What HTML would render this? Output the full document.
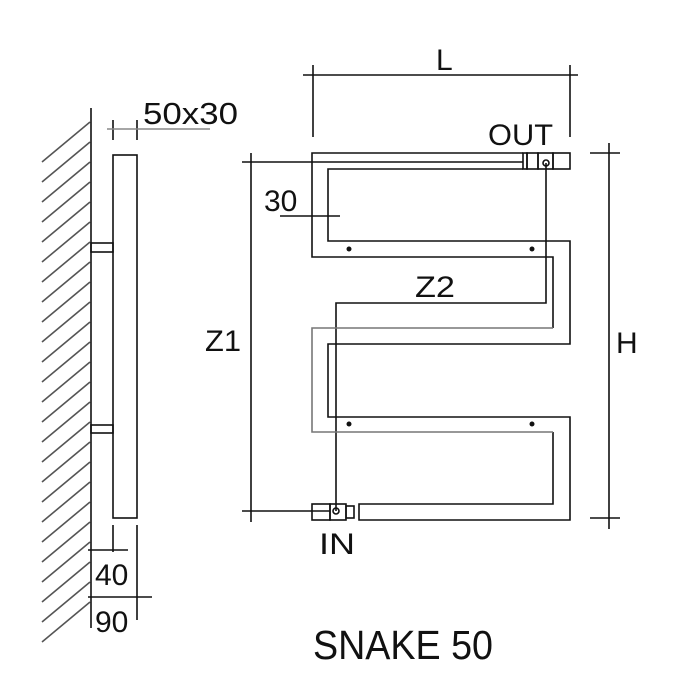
<!DOCTYPE html>
<html><head><meta charset="utf-8"><style>
html,body{margin:0;padding:0;background:#fff;}
svg{display:block;}
text{font-family:"Liberation Sans",sans-serif;fill:#111;}
</style></head><body>
<svg width="678" height="685" viewBox="0 0 678 685" xmlns="http://www.w3.org/2000/svg">
<g stroke="#555" stroke-width="1.6">
<line x1="90" y1="122" x2="42" y2="162"/><line x1="90" y1="142" x2="42" y2="182"/><line x1="90" y1="162" x2="42" y2="202"/><line x1="90" y1="182" x2="42" y2="222"/><line x1="90" y1="202" x2="42" y2="242"/><line x1="90" y1="222" x2="42" y2="262"/><line x1="90" y1="242" x2="42" y2="282"/><line x1="90" y1="262" x2="42" y2="302"/><line x1="90" y1="282" x2="42" y2="322"/><line x1="90" y1="302" x2="42" y2="342"/><line x1="90" y1="322" x2="42" y2="362"/><line x1="90" y1="342" x2="42" y2="382"/><line x1="90" y1="362" x2="42" y2="402"/><line x1="90" y1="382" x2="42" y2="422"/><line x1="90" y1="402" x2="42" y2="442"/><line x1="90" y1="422" x2="42" y2="462"/><line x1="90" y1="442" x2="42" y2="482"/><line x1="90" y1="462" x2="42" y2="502"/><line x1="90" y1="482" x2="42" y2="522"/><line x1="90" y1="502" x2="42" y2="542"/><line x1="90" y1="522" x2="42" y2="562"/><line x1="90" y1="542" x2="42" y2="582"/><line x1="90" y1="562" x2="42" y2="602"/><line x1="90" y1="582" x2="42" y2="622"/><line x1="90" y1="602" x2="42" y2="642"/>
</g>
<g stroke="#111" stroke-width="1.6" fill="none">
<line x1="91" y1="108" x2="91" y2="628"/>
<rect x="113" y="155" width="24" height="363"/>
<rect x="91" y="243" width="22" height="9"/>
<rect x="91" y="425" width="22" height="8"/>
<line x1="113" y1="120" x2="113" y2="140"/><line x1="137" y1="120" x2="137" y2="140"/>
<line x1="113" y1="525" x2="113" y2="552"/><line x1="88" y1="550" x2="128" y2="550"/>
<line x1="137" y1="525" x2="137" y2="620"/><line x1="88" y1="597" x2="152" y2="597"/>
</g>
<line x1="107" y1="129" x2="210" y2="129" stroke="#888" stroke-width="1.6"/>
<text x="143" y="124" font-size="31" fill="#333" textLength="95" lengthAdjust="spacingAndGlyphs">50x30</text>
<text x="95" y="585" font-size="30" fill="#333">40</text>
<text x="95" y="632" font-size="30" fill="#333">90</text>

<g stroke="#111" stroke-width="1.6" fill="none">
<line x1="303" y1="75" x2="578" y2="75"/>
<line x1="313" y1="65" x2="313" y2="137"/><line x1="570" y1="65" x2="570" y2="137"/>
<line x1="242" y1="162" x2="523" y2="162"/>
<line x1="251" y1="153" x2="251" y2="522"/>
<line x1="242" y1="511" x2="330" y2="511"/>
<line x1="609" y1="143" x2="609" y2="529"/>
<line x1="590" y1="153" x2="620" y2="153"/><line x1="590" y1="518" x2="620" y2="518"/>
<line x1="280" y1="216" x2="340" y2="216"/>
<!-- serpentine -->
<polyline points="523,153 312,153 312,257 553,257 553,328"/>
<polyline points="523,169 328,169 328,241 570,241 570,344 328,344 328,417 570,417 570,520 359,520 359,504 553,504 553,432"/>
<rect x="523" y="153" width="4" height="16"/>
<rect x="527" y="153" width="11" height="16"/>
<rect x="538" y="153" width="15" height="16"/>
<rect x="553" y="153" width="17" height="16"/>
<circle cx="546" cy="163" r="3"/>
<rect x="312" y="504" width="18" height="16"/>
<rect x="330" y="504" width="16" height="16"/>
<rect x="346" y="506" width="8" height="12"/>
<circle cx="336" cy="511" r="3"/>
<polyline points="546,163 546,303 336,303 336,511"/>
</g>
<g stroke="#777" stroke-width="1.6" fill="none">
<polyline points="553,328 312,328 312,432 553,432"/>
</g>
<g fill="#111">
<circle cx="349" cy="249" r="2.5"/><circle cx="532" cy="249" r="2.5"/>
<circle cx="349" cy="424" r="2.5"/><circle cx="532" cy="424" r="2.5"/>
</g>
<text x="436" y="70" font-size="30">L</text>
<text x="488" y="145" font-size="30" textLength="65" lengthAdjust="spacingAndGlyphs">OUT</text>
<text x="264" y="211" font-size="30" fill="#333">30</text>
<text x="415" y="297" font-size="30" textLength="40" lengthAdjust="spacingAndGlyphs">Z2</text>
<text x="205" y="351" font-size="30" textLength="36" lengthAdjust="spacingAndGlyphs">Z1</text>
<text x="616" y="353" font-size="30">H</text>
<text x="319" y="554" font-size="30" textLength="36" lengthAdjust="spacingAndGlyphs">IN</text>
<text x="313" y="659" font-size="41" textLength="180" lengthAdjust="spacingAndGlyphs">SNAKE 50</text>
</svg>
</body></html>
